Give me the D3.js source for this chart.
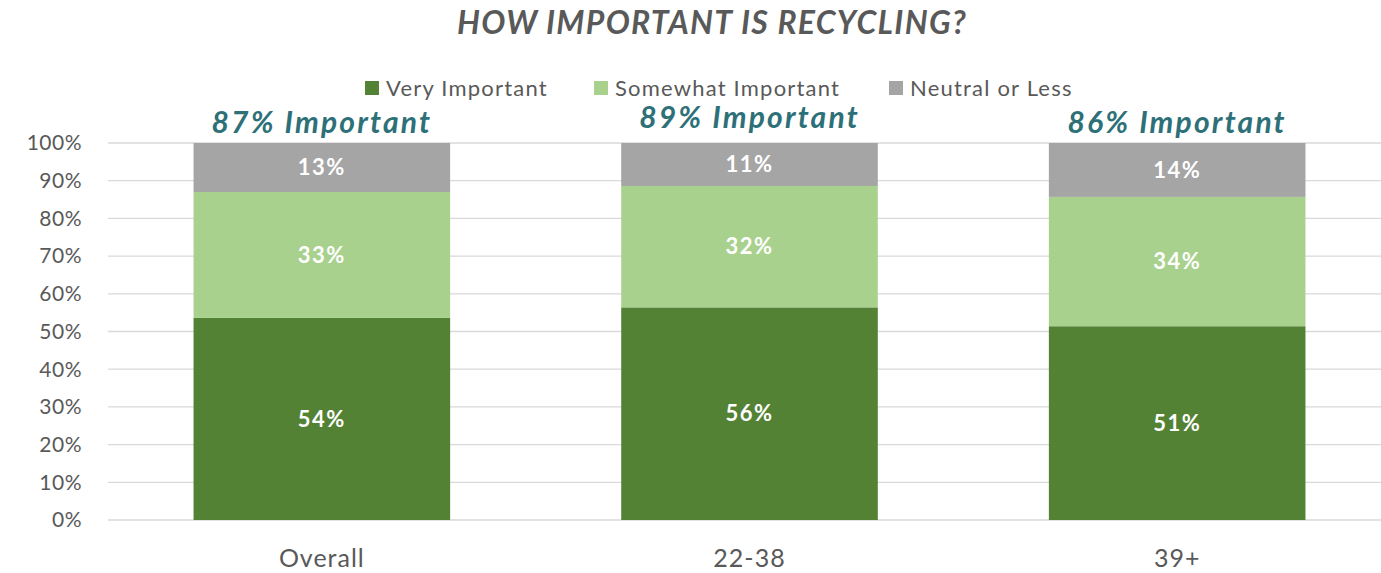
<!DOCTYPE html>
<html><head><meta charset="utf-8">
<script src="https://cdn.jsdelivr.net/npm/d3@7"></script>
<style>body{margin:0;background:#fff}svg{display:block}</style>
</head><body>
<svg id="c" width="1381" height="573"></svg>
<script>
const categories = ["Overall", "22-38", "39+"];
const seriesNames = ["Very Important", "Somewhat Important", "Neutral or Less"];
const veryImportant = [0.536, 0.564, 0.514];
const somewhatImportant = [0.334, 0.322, 0.343];
const neutralOrLess = [0.130, 0.114, 0.143];
const importantLabels = ["87% Important", "89% Important", "86% Important"];
const yTicks = [0,0.1,0.2,0.3,0.4,0.5,0.6,0.7,0.8,0.9,1.0];
const colors = ["#548235", "#a9d18e", "#a5a5a5"];

(function(){
const svg = d3.select("#c");
const font = "Lato, 'Open Sans', sans-serif";
const pLeft = 108, pRight = 1391, pTop = 143, pBottom = 520;
const x = d3.scaleBand().domain(categories).range([pLeft, pRight]).paddingInner(0.4).paddingOuter(0.2);
const y = d3.scaleLinear().domain([0,1]).range([pBottom, pTop]);

const rows = categories.map((c,i)=>({cat:c, "Very Important":veryImportant[i], "Somewhat Important":somewhatImportant[i], "Neutral or Less":neutralOrLess[i]}));
const stacked = d3.stack().keys(seriesNames)(rows);

svg.append("g").selectAll("line").data(yTicks).join("line")
  .attr("x1", pLeft).attr("x2", 1381).attr("y1", d=>y(d)).attr("y2", d=>y(d))
  .attr("stroke", "#d9d9d9").attr("stroke-width", 1.3);

svg.append("g").selectAll("text").data(yTicks).join("text")
  .attr("x", 82).attr("y", d=>y(d)).attr("dy","0.35em").attr("text-anchor","end")
  .attr("font-family", font).attr("font-size", 21).attr("fill", "#595959")
  .attr("letter-spacing", 0.5)
  .text(d=>d3.format(".0%")(d));

const g = svg.append("g");
stacked.forEach((s,si)=>{
  g.append("g").selectAll("rect").data(s).join("rect")
    .attr("x", d=>x(d.data.cat)).attr("width", x.bandwidth())
    .attr("y", d=>y(d[1])).attr("height", d=>y(d[0])-y(d[1]))
    .attr("fill", colors[si]);
  g.append("g").selectAll("text").data(s).join("text")
    .attr("x", d=>x(d.data.cat)+x.bandwidth()/2).attr("y", d=>y((d[0]+d[1])/2)).attr("dy","0.35em")
    .attr("text-anchor","middle").attr("font-family", font).attr("font-weight","bold")
    .attr("font-size", 22).attr("letter-spacing", 1.5).attr("fill","#fff")
    .text(d=>d3.format(".0%")(d[1]-d[0]));
});

svg.append("g").selectAll("text").data(categories).join("text")
  .attr("x", d=>x(d)+x.bandwidth()/2).attr("y", 567).attr("text-anchor","middle")
  .attr("font-family", font).attr("font-size", 25).attr("letter-spacing", 1)
  .attr("fill","#595959").text(d=>d);

const annOffsets = [-10, -15, -10];
svg.append("g").selectAll("text").data(categories).join("text")
  .attr("x", d=>x(d)+x.bandwidth()/2).attr("y", (d,i)=>y(1)+annOffsets[i])
  .attr("text-anchor","middle").attr("font-family", font)
  .attr("font-weight","bold").attr("font-style","italic").attr("font-size", 30)
  .attr("letter-spacing", 2.2)
  .attr("fill","#2e7078").text((d,i)=>importantLabels[i]);

svg.append("text").attr("x", 712).attr("y", 34).attr("text-anchor","middle")
  .attr("font-family", font).attr("font-weight","bold").attr("font-style","italic")
  .attr("font-size", 32).attr("letter-spacing", 1.3)
  .attr("fill","#595959").text("HOW IMPORTANT IS RECYCLING?");

const lg = svg.append("g");
const legX = [365, 594, 889];
seriesNames.forEach((n,i)=>{
  lg.append("rect").attr("x", legX[i]).attr("y", 81).attr("width", 14).attr("height", 14).attr("fill", colors[i]);
  lg.append("text").attr("x", legX[i]+21).attr("y", 96)
    .attr("font-family", font).attr("font-size", 22).attr("letter-spacing", 1.2)
    .attr("fill","#595959").text(n);
});
})();
</script>
</body></html>
